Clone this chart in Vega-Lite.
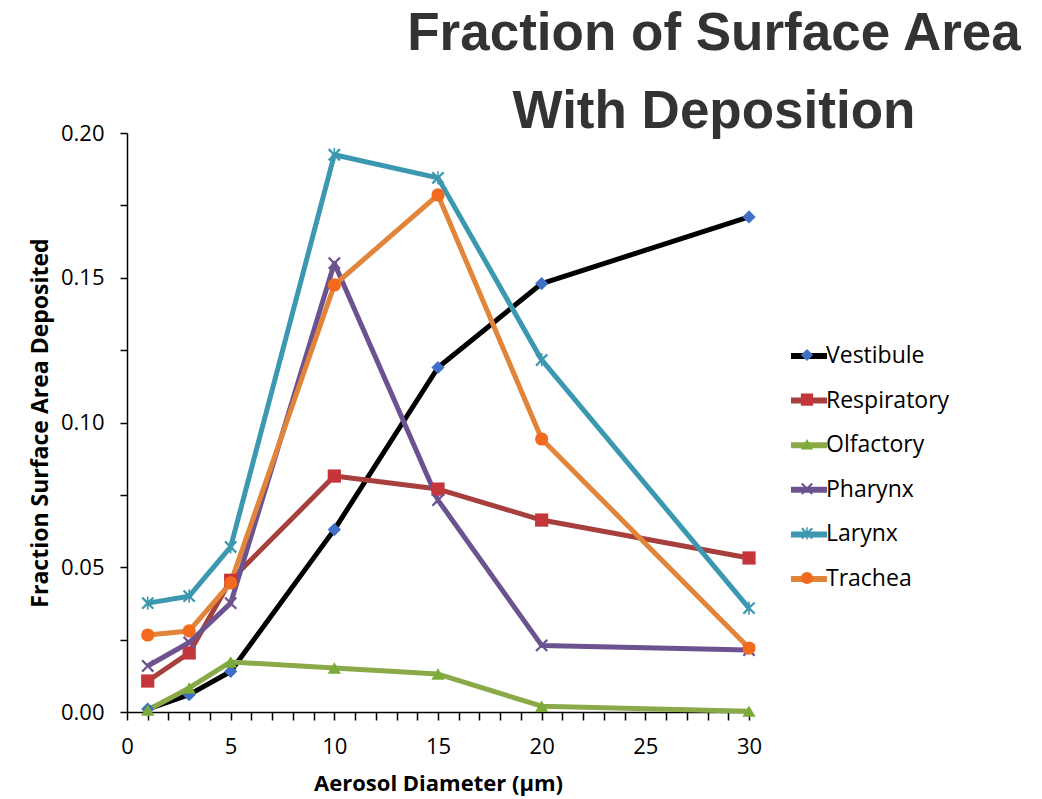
{
  "$schema": "https://vega.github.io/schema/vega-lite/v6.json",
  "width": 622,
  "height": 579,
  "autosize": {"type": "none"},
  "padding": {"left": 127, "top": 133, "right": 293, "bottom": 87},
  "background": "white",
  "config": {"view": {"stroke": null}},
  "title": {
    "text": ["Fraction of Surface Area", "With Deposition"],
    "font": "Liberation Sans",
    "fontSize": 53,
    "fontWeight": "bold",
    "color": "#333336",
    "anchor": "middle",
    "frame": "group",
    "dx": 276,
    "dy": 21,
    "lineHeight": 78,
    "offset": 4
  },
  "data": {
    "values": [
      {"series": "Vestibule", "d": 1, "f": 0.001},
      {"series": "Vestibule", "d": 3, "f": 0.006},
      {"series": "Vestibule", "d": 5, "f": 0.014},
      {"series": "Vestibule", "d": 10, "f": 0.063},
      {"series": "Vestibule", "d": 15, "f": 0.119},
      {"series": "Vestibule", "d": 20, "f": 0.148},
      {"series": "Vestibule", "d": 30, "f": 0.171},
      {"series": "Respiratory", "d": 1, "f": 0.0107},
      {"series": "Respiratory", "d": 3, "f": 0.0204},
      {"series": "Respiratory", "d": 5, "f": 0.0455},
      {"series": "Respiratory", "d": 10, "f": 0.0815},
      {"series": "Respiratory", "d": 15, "f": 0.077},
      {"series": "Respiratory", "d": 20, "f": 0.0663},
      {"series": "Respiratory", "d": 30, "f": 0.0532},
      {"series": "Olfactory", "d": 1, "f": 0.0007},
      {"series": "Olfactory", "d": 3, "f": 0.0083},
      {"series": "Olfactory", "d": 5, "f": 0.0173},
      {"series": "Olfactory", "d": 10, "f": 0.0152},
      {"series": "Olfactory", "d": 15, "f": 0.0131},
      {"series": "Olfactory", "d": 20, "f": 0.002},
      {"series": "Olfactory", "d": 30, "f": 0.0003},
      {"series": "Pharynx", "d": 1, "f": 0.0159},
      {"series": "Pharynx", "d": 3, "f": 0.024},
      {"series": "Pharynx", "d": 5, "f": 0.0376},
      {"series": "Pharynx", "d": 10, "f": 0.155},
      {"series": "Pharynx", "d": 15, "f": 0.0732},
      {"series": "Pharynx", "d": 20, "f": 0.023},
      {"series": "Pharynx", "d": 30, "f": 0.0214},
      {"series": "Larynx", "d": 1, "f": 0.0376},
      {"series": "Larynx", "d": 3, "f": 0.04},
      {"series": "Larynx", "d": 5, "f": 0.057},
      {"series": "Larynx", "d": 10, "f": 0.1925},
      {"series": "Larynx", "d": 15, "f": 0.1845},
      {"series": "Larynx", "d": 20, "f": 0.1216},
      {"series": "Larynx", "d": 30, "f": 0.0359},
      {"series": "Trachea", "d": 1, "f": 0.0266},
      {"series": "Trachea", "d": 3, "f": 0.028},
      {"series": "Trachea", "d": 5, "f": 0.0446},
      {"series": "Trachea", "d": 10, "f": 0.1475},
      {"series": "Trachea", "d": 15, "f": 0.1786},
      {"series": "Trachea", "d": 20, "f": 0.0943},
      {"series": "Trachea", "d": 30, "f": 0.0221}
    ]
  },
  "encoding": {
    "x": {
      "field": "d",
      "type": "quantitative",
      "scale": {"domain": [0, 30], "nice": false, "zero": false},
      "axis": {
        "title": "Aerosol Diameter (µm)",
        "values": [0,1,2,3,4,5,6,7,8,9,10,11,12,13,14,15,16,17,18,19,20,21,22,23,24,25,26,27,28,29,30],
        "labelExpr": "datum.value % 5 === 0 ? datum.label : ''",
        "grid": false,
        "tickSize": 8,
        "tickColor": "#000000",
        "tickWidth": 1.5,
        "domainColor": "#000000",
        "domainWidth": 1.5,
        "labelFont": "Open Sans",
        "labelFontSize": 22,
        "labelColor": "#000000",
        "labelPadding": 16,
        "labelFlush": false,
        "labelOverlap": false,
        "titleFont": "Open Sans",
        "titleFontSize": 22,
        "titleFontWeight": "bold",
        "titleColor": "#000000",
        "titlePadding": 16
      }
    },
    "y": {
      "field": "f",
      "type": "quantitative",
      "scale": {"domain": [0, 0.2], "nice": false},
      "axis": {
        "title": "Fraction Surface Area Deposited",
        "values": [0, 0.025, 0.05, 0.075, 0.1, 0.125, 0.15, 0.175, 0.2],
        "labelExpr": "round(datum.value * 1000) % 50 === 0 ? format(datum.value, '.2f') : ''",
        "grid": false,
        "tickSize": 7,
        "tickColor": "#000000",
        "tickWidth": 1.5,
        "domainColor": "#000000",
        "domainWidth": 1.5,
        "labelFont": "Open Sans",
        "labelFontSize": 22,
        "labelColor": "#000000",
        "labelPadding": 16,
        "labelOverlap": false,
        "titleFont": "Open Sans",
        "titleFontSize": 23,
        "titleFontWeight": "bold",
        "titleColor": "#000000",
        "titlePadding": 8
      }
    }
  },
  "layer": [
    {
      "mark": {"type": "line", "strokeWidth": 5, "strokeJoin": "round"},
      "encoding": {
        "stroke": {
          "field": "series",
          "type": "nominal",
          "scale": {
            "domain": ["Vestibule", "Respiratory", "Olfactory", "Pharynx", "Larynx", "Trachea"],
            "range": ["#000000", "#A7403D", "#8AAA4A", "#6D5290", "#3C98B0", "#E1853A"]
          },
          "legend": {
            "title": null,
            "orient": "none",
            "legendX": 661,
            "legendY": 202,
            "symbolType": "stroke",
            "symbolSize": 1296,
            "symbolStrokeWidth": 6,
            "labelFont": "Open Sans",
            "labelFontSize": 23,
            "labelColor": "#000000",
            "labelOffset": -4,
            "rowPadding": 11.6
          }
        }
      }
    },
    {
      "mark": {"type": "point", "filled": true, "opacity": 1, "size": 175},
      "encoding": {
        "fill": {
          "field": "series",
          "type": "nominal",
          "sort": null,
          "scale": {"range": ["#3F6FC6", "#C4363A", "#7AAA38", "#6D5290", "#3C98B0", "#F26A1E"]},
          "legend": {
            "title": null,
            "orient": "none",
            "legendX": 669,
            "legendY": 211,
            "symbolSize": 150,
            "labelExpr": "''",
            "labelFontSize": 22,
            "rowPadding": 22.6
          }
        },
        "shape": {
          "field": "series",
          "type": "nominal",
          "sort": null,
          "scale": {"range": [
            "diamond",
            "square",
            "triangle-up",
            "M0.73,-0.97L0.97,-0.73L0.24,0L0.97,0.73L0.73,0.97L0,0.24L-0.73,0.97L-0.97,0.73L-0.24,0L-0.97,-0.73L-0.73,-0.97L0,-0.24Z",
            "M0.73,-0.97L0.97,-0.73L0.24,0L0.97,0.73L0.73,0.97L0,0.24L-0.73,0.97L-0.97,0.73L-0.24,0L-0.97,-0.73L-0.73,-0.97L0,-0.24ZM-0.12,-1L0.12,-1L0.12,1L-0.12,1Z",
            "circle"
          ]},
          "legend": {
            "title": null,
            "orient": "none",
            "legendX": 669,
            "legendY": 211,
            "symbolSize": 150,
            "labelExpr": "''",
            "labelFontSize": 22,
            "rowPadding": 22.6
          }
        }
      }
    }
  ]
}
